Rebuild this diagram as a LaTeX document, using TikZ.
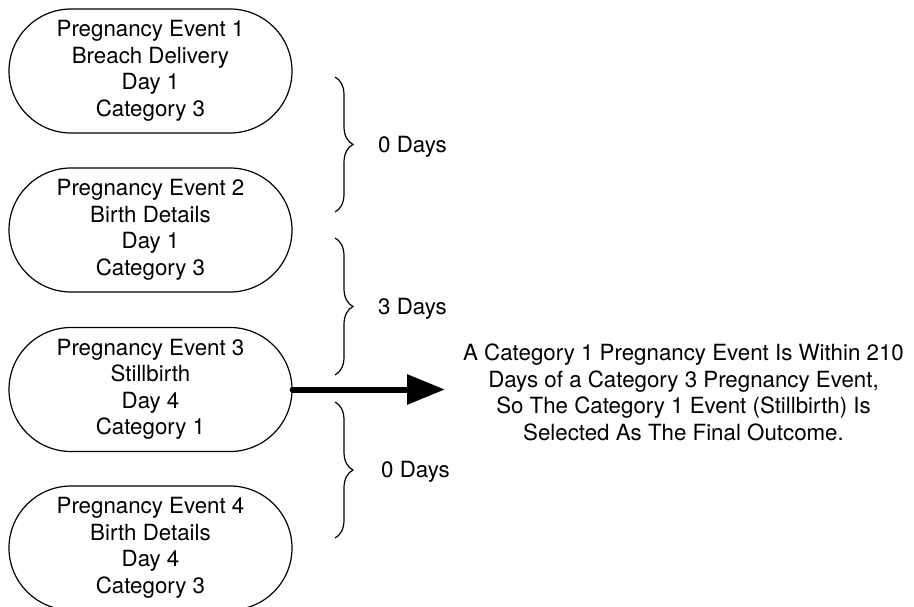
\documentclass[tikz,border=0pt]{standalone}
\usepackage{fontspec}
\setmainfont{TeX Gyre Heros}
\usetikzlibrary{shapes.misc,decorations.pathreplacing,arrows.meta}
\begin{document}
\begin{tikzpicture}[x=1pt,y=-1pt,
  txt/.style={font=\fontsize{22.3}{26.5}\selectfont},
  event/.style={txt,draw,line width=1.2pt,rounded rectangle,minimum width=283pt,minimum height=124pt,align=center,inner sep=0pt},
  gap/.style={decorate,decoration={brace,amplitude=18pt},line width=1.2pt},
  lbl/.style={txt,anchor=base west,inner sep=0pt},
  bigarrow/.style={line width=6pt,line cap=round,-{Triangle[length=38pt,width=29pt]}}]
\useasboundingbox (0,0) rectangle (914,607);
\clip (0,0) rectangle (914,607);

\node[event] (e1) at (150.5,71) {Pregnancy Event 1\\Breach Delivery\\Day 1\\Category 3};
\node[event] (e2) at (150.5,230) {Pregnancy Event 2\\Birth Details\\Day 1\\Category 3};
\node[event] (e3) at (150.5,389.5) {Pregnancy Event 3\\Stillbirth\\Day 4\\Category 1};
\node[event] (e4) at (150.5,548) {Pregnancy Event 4\\Birth Details\\Day 4\\Category 3};

\coordinate (b1t) at (335,77);  \coordinate (b1b) at (335,212);
\coordinate (b2t) at (335,238); \coordinate (b2b) at (335,375);
\coordinate (b3t) at (335,402); \coordinate (b3b) at (335,538);
\draw[gap] (b1t) -- (b1b);
\draw[gap] (b2t) -- (b2b);
\draw[gap] (b3t) -- (b3b);

\node[lbl] (d1) at (378,153) {0 Days};
\node[lbl] (d2) at (378,314) {3 Days};
\node[lbl] (d3) at (381,477) {0 Days};

\coordinate (tip) at (445,389.5);
\draw[bigarrow] (e3.east) -- (tip);

\node[txt,align=center,inner sep=0pt] (note) at (683.5,392.5) {A Category 1 Pregnancy Event Is Within 210\\Days of a Category 3 Pregnancy Event,\\So The Category 1 Event (Stillbirth) Is\\Selected As The Final Outcome.};
\end{tikzpicture}
\end{document}
